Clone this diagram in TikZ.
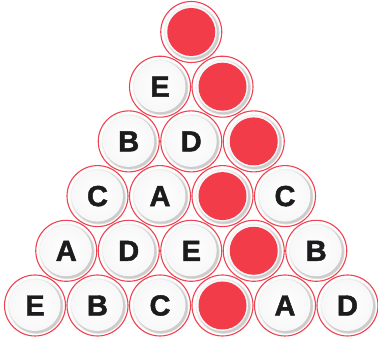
\documentclass[tikz,border=0pt]{standalone}
\usepackage{fontspec}
\usetikzlibrary{positioning}
\newfontfamily\coinfont{Liberation Sans}[BoldFeatures={FakeBold=1.6}]
\definecolor{coinred}{RGB}{243,60,74}
\definecolor{rimred}{RGB}{240,66,80}
\definecolor{lettergray}{RGB}{28,28,30}

% inner shadow ring of a coin
\newcommand{\coinshade}{%
  \fill[black!6] ([shift={(0.6pt,-0.6pt)}]path picture bounding box.center) circle (27.8pt);
  \fill[black!13] ([shift={(1.2pt,-1.2pt)}]path picture bounding box.center) circle (27pt);
  \fill[black!20] ([shift={(1.3pt,-1.3pt)}]path picture bounding box.center) circle (26.3pt);
  \shade[inner color=white, outer color=black!3]
    ([shift={(-0.3pt,0.3pt)}]path picture bounding box.center) circle (25.8pt);}

\begin{document}
\begin{tikzpicture}[
    x=1pt, y=1pt,
    coin/.style={circle, draw=rimred, line width=1.1pt, fill=white,
                 minimum size=61pt, inner sep=0pt, text=lettergray,
                 font=\coinfont\bfseries\fontsize{29}{29}\selectfont,
                 path picture={\coinshade}},
    redcoin/.style={coin, path picture={\coinshade
                 \fill[coinred] (path picture bounding box.center) circle (24pt);}}
]
    \useasboundingbox (0,0) rectangle (378,339);

    % ==================== ROW 1 ====================
    \node[redcoin] (c11) at (191.25,307) {};

    % ==================== ROW 2 ====================
    \node[coin]    (c21) at (160,252.3) {E};
    \node[redcoin] (c22) at (222.5,252.3) {};

    % ==================== ROW 3 ====================
    \node[coin]    (c31) at (128.75,197.6) {B};
    \node[coin]    (c32) at (191.25,197.6) {D};
    \node[redcoin] (c33) at (253.75,197.6) {};

    % ==================== ROW 4 ====================
    \node[coin]    (c41) at (97.5,142.9) {C};
    \node[coin]    (c42) at (160,142.9) {A};
    \node[redcoin] (c43) at (222.5,142.9) {};
    \node[coin]    (c44) at (285,142.9) {C};

    % ==================== ROW 5 ====================
    \node[coin]    (c51) at (66.25,88.2) {A};
    \node[coin]    (c52) at (128.75,88.2) {D};
    \node[coin]    (c53) at (191.25,88.2) {E};
    \node[redcoin] (c54) at (253.75,88.2) {};
    \node[coin]    (c55) at (316.25,88.2) {B};

    % ==================== ROW 6 ====================
    \node[coin]    (c61) at (35,33.5) {E};
    \node[coin]    (c62) at (97.5,33.5) {B};
    \node[coin]    (c63) at (160,33.5) {C};
    \node[redcoin] (c64) at (222.5,33.5) {};
    \node[coin]    (c65) at (285,33.5) {A};
    \node[coin]    (c66) at (347.5,33.5) {D};
\end{tikzpicture}
\end{document}
